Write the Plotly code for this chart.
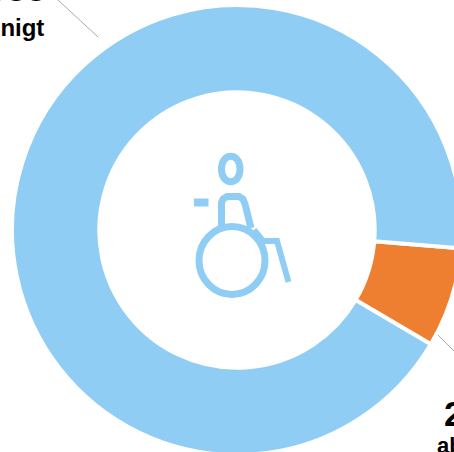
import plotly.graph_objects as go

categories = ["bescheinigt", "abgelehnt"]
values = [262, 3388]
labels_big = ["3.388", "262"]
BLUE = "#90CDF5"
ORANGE = "#EF7F30"
W, H = 474, 460
FONT = "Liberation Sans"

def X(p):
    return p / W

def Y(p):
    return 1 - p / H

fig = go.Figure(go.Pie(
    labels=[categories[1], categories[0]],
    values=values,
    sort=False,
    direction="clockwise",
    rotation=94.7,
    hole=0.612,
    textinfo="none",
    hoverinfo="label+value",
    showlegend=False,
    marker=dict(colors=[ORANGE, BLUE], line=dict(color="white", width=4)),
    domain=dict(x=[X(12), X(462)], y=[Y(455), Y(5)]),
))

def seg(path, width):
    return dict(type="path", path=path, xref="paper", yref="paper",
                line=dict(color=BLUE, width=width), layer="above")

def P(*pts):
    return "M " + " L ".join(f"{X(x):.5f} {Y(y):.5f}" for x, y in pts)

shapes = [
    dict(type="line", xref="paper", yref="paper", x0=X(58), y0=Y(0), x1=X(98), y1=Y(37),
         line=dict(color="#AAAAAA", width=1)),
    dict(type="line", xref="paper", yref="paper", x0=X(438), y0=Y(335), x1=X(456), y1=Y(353),
         line=dict(color="#AAAAAA", width=1)),
    # wheelchair icon
    dict(type="circle", xref="paper", yref="paper", x0=X(199), x1=X(265), y0=Y(226.5), y1=Y(294.5),
         line=dict(color=BLUE, width=7), layer="above"),
    dict(type="path", xref="paper", yref="paper",
         path=f"M {X(221.5):.5f} {Y(169):.5f} C {X(221.5):.5f} {Y(152):.5f} {X(240):.5f} {Y(152):.5f} {X(240):.5f} {Y(169):.5f} "
              f"C {X(240):.5f} {Y(186):.5f} {X(221.5):.5f} {Y(186):.5f} {X(221.5):.5f} {Y(169):.5f} Z",
         line=dict(color=BLUE, width=7), layer="above"),
    seg(P((194, 202.5), (208.5, 202.5)), 8),
    seg(P((221.5, 226), (221.5, 203), (223, 199), (227, 196.5), (239, 196.5), (243, 199), (245, 204), (251, 228)), 7),
    seg(P((254, 230), (263, 241), (277, 241), (288.5, 282)), 6),
]

def note(text, x, y, size, anchor):
    return dict(text=f"<b>{text}</b>", x=X(x), y=Y(y), xref="paper", yref="paper",
                xanchor=anchor, yanchor="bottom", showarrow=False,
                font=dict(family=FONT, size=size, color="#000000"),
                borderpad=0, borderwidth=0)

annotations = [
    note(labels_big[0], 46, 9, 36, "right"),
    note(categories[0], 44, 41, 24, "right"),
    note(labels_big[1], 444, 433, 35, "left"),
    note(categories[1], 437, 458, 22, "left"),
]

fig.update_layout(
    width=W, height=H, margin=dict(l=0, r=0, t=0, b=0),
    paper_bgcolor="white", plot_bgcolor="white",
    shapes=shapes, annotations=annotations,
)
fig.write_html("out.html", config={"displayModeBar": False},
               post_script="document.body.style.margin='0';document.body.style.overflow='hidden';document.documentElement.style.overflow='hidden';")
